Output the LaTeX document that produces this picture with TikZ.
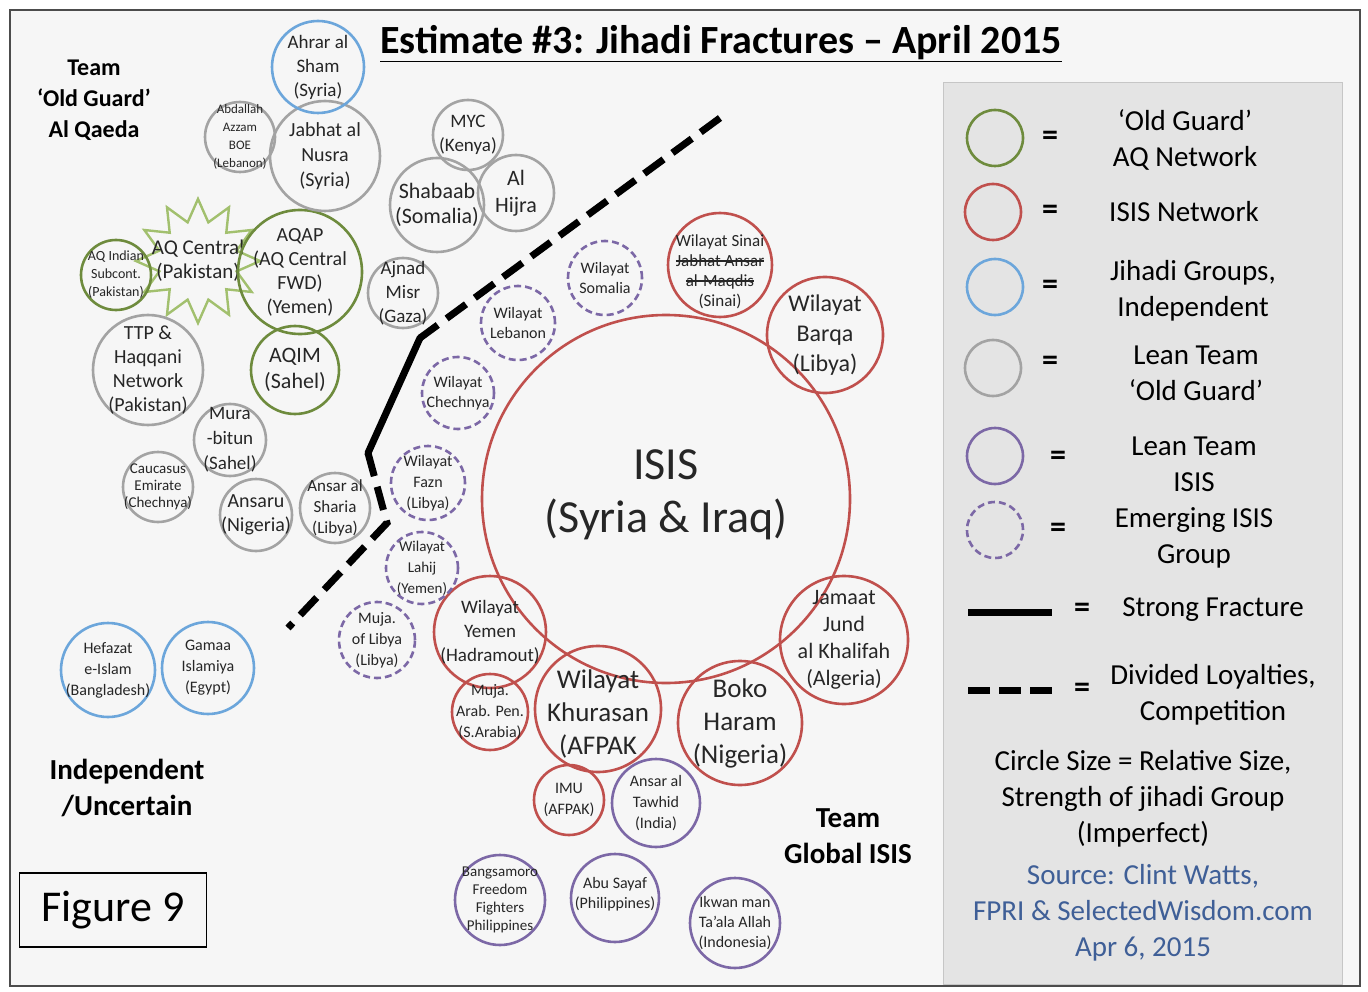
\documentclass[tikz,border=0pt]{standalone}
\usepackage{fontspec}
\setmainfont{Carlito}
\usepackage{tikz}
\usetikzlibrary{shapes.geometric}
\definecolor{aq-green}{HTML}{6E8B3D}
\definecolor{star-green}{HTML}{A2C06E}
\definecolor{isis-red}{HTML}{C0504D}
\definecolor{ind-blue}{HTML}{6CA6DB}
\definecolor{lean-gray}{HTML}{A3A3A3}
\definecolor{lean-purple}{HTML}{7C68A6}
\definecolor{src-blue}{HTML}{3F5F97}
\definecolor{page-bg}{HTML}{F6F6F6}
\definecolor{key-bg}{HTML}{E4E4E4}
\newcommand{\fsz}[2]{\fontsize{#1}{#2}\selectfont}
\newsavebox{\strkbox}
\newcommand{\strk}[1]{\sbox{\strkbox}{#1}\rlap{\rule[0.3em]{\wd\strkbox}{1.2pt}}\usebox{\strkbox}}

\begin{document}
\begin{tikzpicture}[x=1pt, y=-1pt,
  grp/.style={circle, inner sep=0pt, line width=2.6pt},
  aq/.style={grp, draw=aq-green},
  isis/.style={grp, draw=isis-red},
  indep/.style={grp, draw=ind-blue},
  leanaq/.style={grp, draw=lean-gray},
  leanis/.style={grp, draw=lean-purple},
  emerg/.style={grp, draw=lean-purple, dash pattern=on 7pt off 4pt},
  every label/.style={align=center, inner sep=0pt, text=black!85},
  team/.style={align=center, font=\bfseries\fsz{29}{36}},
  keytxt/.style={align=center, font=\fsz{29}{36}},
  eq/.style={font=\bfseries\fsz{32}{36}},
  strong/.style={line width=7pt, black},
  divided/.style={line width=7pt, black, dash pattern=on 24pt off 11pt}
]
  \useasboundingbox (0,0) rectangle (1368,992);
  \fill[white] (0,0) rectangle (1368,992);
  \draw[gray!60!black, line width=2pt, fill=page-bg] (10,10) rectangle (1360,986);

  % title
  \node[font=\bfseries\fsz{40}{48}] (title) at (721,44)
    {\underline{Estimate \#3: Jihadi Fractures -- April 2015}};

  % team headings
  \node[team, font=\bfseries\fsz{24}{31}] (team-aq) at (94,100) {Team\\`Old Guard'\\Al Qaeda};
  \node[team] (team-ind) at (127,788) {Independent\\/Uncertain};
  \node[team] (team-isis) at (848,836) {Team\\Global ISIS};
  \node[draw, line width=1.6pt, minimum width=187, minimum height=74, font=\fsz{44}{50}] (fig) at (113,910) {Figure 9};

  % 'Old Guard' AQ network
  \node[star, star points=12, star point ratio=1.55, minimum size=124, inner sep=0pt,
        draw=star-green, line width=2.4pt,
        label={[font=\fsz{21}{24}]center:{AQ Central\\(Pakistan)}}] (aqc) at (198,261) {};
  \node[aq, minimum size=124, label={[font=\fsz{20}{24}]center:{AQAP\\(AQ Central\\FWD)\\(Yemen)}}] (aqap) at (300,272) {};
  \node[aq, minimum size=70, label={[font=\fsz{14}{18}]center:{AQ Indian\\Subcont.\\(Pakistan)}}] (aqis) at (116,275) {};
  \node[aq, minimum size=88, label={[font=\fsz{22}{26}]center:{AQIM\\(Sahel)}}] (aqim) at (295,370) {};

  % lean 'Old Guard'
  \node[leanaq, minimum size=70, label={[font=\fsz{13}{18}]center:{Abdallah\\Azzam\\BOE\\(Lebanon)}}] (azzam) at (240,137) {};
  \node[leanaq, minimum size=110, label={[font=\fsz{20}{25}]center:{Jabhat al\\Nusra\\(Syria)}}] (nusra) at (325,156) {};
  \node[leanaq, minimum size=70, label={[font=\fsz{19}{24}]center:{MYC\\(Kenya)}}] (myc) at (468,135) {};
  \node[leanaq, minimum size=94, label={[font=\fsz{22}{25}]center:{Shabaab\\(Somalia)}}] (shabaab) at (437,205) {};
  \node[leanaq, minimum size=76, label={[font=\fsz{22}{27}]center:{Al\\Hijra}}] (hijra) at (516,193) {};
  \node[leanaq, minimum size=70, label={[font=\fsz{19}{24}]center:{Ajnad\\Misr\\(Gaza)}}] (ajnad) at (403,293) {};
  \node[leanaq, minimum size=110, label={[font=\fsz{20}{24}]center:{TTP \&\\Haqqani\\Network\\(Pakistan)}}] (ttp) at (148,370) {};
  \node[leanaq, minimum size=72, label={[font=\fsz{19}{25}]center:{Mura\\-bitun\\(Sahel)}}] (murab) at (230,440) {};
  \node[leanaq, minimum size=70, label={[font=\fsz{15}{17}]center:{Caucasus\\Emirate\\(Chechnya)}}] (caucasus) at (158,487) {};
  \node[leanaq, minimum size=72, label={[font=\fsz{20}{24}]center:{Ansaru\\(Nigeria)}}] (ansaru) at (256,515) {};
  \node[leanaq, minimum size=70, label={[font=\fsz{17}{21}]center:{Ansar al\\Sharia\\(Libya)}}] (sharia) at (335,508) {};

  % independent
  \node[indep, minimum size=92, label={[font=\fsz{19}{24}]center:{Ahrar al\\Sham\\(Syria)}}] (ahrar) at (318,67) {};
  \node[indep, minimum size=94, label={[font=\fsz{16}{21}]center:{Hefazat\\e-Islam\\(Bangladesh)}}] (hefazat) at (108,670) {};
  \node[indep, minimum size=92, label={[font=\fsz{16}{21}]center:{Gamaa\\Islamiya\\(Egypt)}}] (gamaa) at (208,668) {};

  % ISIS network
  \node[isis, minimum size=368, label={[font=\fsz{46}{53}, yshift=4pt]center:{ISIS\\(Syria \& Iraq)}}] (isis) at (666,499) {};
  \node[isis, minimum size=104, label={[font=\fsz{17}{20}, yshift=-7pt]center:{Wilayat Sinai\\\strk{Jabhat Ansar}\\\strk{al-Maqdis}\\(Sinai)}}] (sinai) at (720,265) {};
  \node[isis, minimum size=116, label={[font=\fsz{24}{30}]center:{Wilayat\\Barqa\\(Libya)}}] (barqa) at (825,335) {};
  \node[isis, minimum size=128, label={[font=\fsz{22}{27}]center:{Jamaat\\Jund\\al Khalifah\\(Algeria)}}] (jund) at (844,640) {};
  \node[isis, minimum size=112, label={[font=\fsz{19}{24}]center:{Wilayat\\Yemen\\(Hadramout)}}] (wyemen) at (490,632) {};
  \node[isis, minimum size=76, label={[font=\fsz{16}{21}]center:{Muja.\\Arab. Pen.\\(S.Arabia)}}] (mujaap) at (490,712) {};
  \node[isis, minimum size=126, label={[font=\fsz{27}{33}, yshift=-5pt]center:{Wilayat\\Khurasan\\(AFPAK}}] (khurasan) at (598,709) {};
  \node[isis, minimum size=124, label={[font=\fsz{27}{33}]center:{Boko\\Haram\\(Nigeria)}}] (boko) at (740,723) {};
  \node[isis, minimum size=70, label={[font=\fsz{16}{21}]center:{IMU\\(AFPAK)}}] (imu) at (569,800) {};

  % lean ISIS
  \node[leanis, minimum size=88, label={[font=\fsz{16}{21}]center:{Ansar al\\Tawhid\\(India)}}] (tawhid) at (656,803) {};
  \node[leanis, minimum size=90, label={[font=\fsz{15}{18}]center:{Bangsamoro\\Freedom\\Fighters\\Philippines}}] (bangsa) at (500,900) {};
  \node[leanis, minimum size=88, label={[font=\fsz{16}{20}, yshift=4pt]center:{Abu Sayaf\\(Philippines)}}] (sayaf) at (615,898) {};
  \node[leanis, minimum size=90, label={[font=\fsz{16}{20}]center:{Ikwan man\\Ta’ala Allah\\(Indonesia)}}] (ikwan) at (735,923) {};

  % emerging ISIS
  \node[emerg, minimum size=74, label={[font=\fsz{16}{20}]center:{Wilayat\\Somalia}}] (wsomalia) at (605,278) {};
  \node[emerg, minimum size=74, label={[font=\fsz{16}{20}]center:{Wilayat\\Lebanon}}] (wlebanon) at (518,323) {};
  \node[emerg, minimum size=72, label={[font=\fsz{16}{20}]center:{Wilayat\\Chechnya}}] (wchechnya) at (458,393) {};
  \node[emerg, minimum size=74, label={[font=\fsz{16}{21}]center:{Wilayat\\Fazn\\(Libya)}}] (wfazn) at (428,483) {};
  \node[emerg, minimum size=72, label={[font=\fsz{15}{21}]center:{Wilayat\\Lahij\\(Yemen)}}] (wlahij) at (422,568) {};
  \node[emerg, minimum size=76, label={[font=\fsz{16}{21}]center:{Muja.\\of Libya\\(Libya)}}] (mujalib) at (377,640) {};

  % fracture line
  \coordinate (f1) at (720,118);
  \coordinate (f2) at (420,338);
  \coordinate (f3) at (368,453);
  \coordinate (f4) at (387,523);
  \coordinate (f5) at (288,628);
  \draw[divided] (f1) -- (f2);
  \draw[strong, line cap=round] (f2) -- (f3);
  \draw[divided] (f3) -- (f4) -- (f5);

  % key
  \draw[gray!45, fill=key-bg] (943,82) rectangle (1342,984);
  \node[aq, minimum size=56] (key-aq) at (995,138) {};
  \node[eq] (key-aq-eq) at (1050,138) {=};
  \node[keytxt] (key-aq-t) at (1185,140) {`Old Guard'\\AQ Network};
  \node[isis, minimum size=56] (key-isis) at (993,212) {};
  \node[eq] (key-isis-eq) at (1050,212) {=};
  \node[keytxt] (key-isis-t) at (1184,212) {ISIS Network};
  \node[indep, minimum size=56] (key-ind) at (995,287) {};
  \node[eq] (key-ind-eq) at (1050,287) {=};
  \node[keytxt] (key-ind-t) at (1193,291) {Jihadi Groups,\\Independent};
  \node[leanaq, minimum size=56] (key-lean) at (993,368) {};
  \node[eq] (key-lean-eq) at (1050,363) {=};
  \node[keytxt] (key-lean-t) at (1196,373) {Lean Team\\`Old Guard'};
  \node[leanis, minimum size=56] (key-leanis) at (995,456) {};
  \node[eq] (key-leanis-eq) at (1058,458) {=};
  \node[keytxt] (key-leanis-t) at (1194,464) {Lean Team\\ISIS};
  \node[emerg, minimum size=56] (key-emerg) at (995,530) {};
  \node[eq] (key-emerg-eq) at (1058,530) {=};
  \node[keytxt] (key-emerg-t) at (1194,538) {Emerging ISIS\\Group};
  \coordinate (key-s1) at (968,612);
  \coordinate (key-s2) at (1052,612);
  \draw[strong] (key-s1) -- (key-s2);
  \node[eq] (key-s-eq) at (1082,610) {=};
  \node[keytxt] (key-s-t) at (1213,610) {Strong Fracture};
  \coordinate (key-d1) at (968,690);
  \coordinate (key-d2) at (1052,690);
  \draw[divided, dash pattern=on 22pt off 9pt] (key-d1) -- (key-d2);
  \node[eq] (key-d-eq) at (1082,690) {=};
  \node[keytxt] (key-d-t) at (1213,695) {Divided Loyalties,\\Competition};
  \node[keytxt] (key-size) at (1143,799) {Circle Size = Relative Size,\\Strength of jihadi Group\\(Imperfect)};
  \node[keytxt, text=src-blue] (key-src) at (1143,913) {Source: Clint Watts,\\FPRI \& SelectedWisdom.com\\Apr 6, 2015};
\end{tikzpicture}
\end{document}
